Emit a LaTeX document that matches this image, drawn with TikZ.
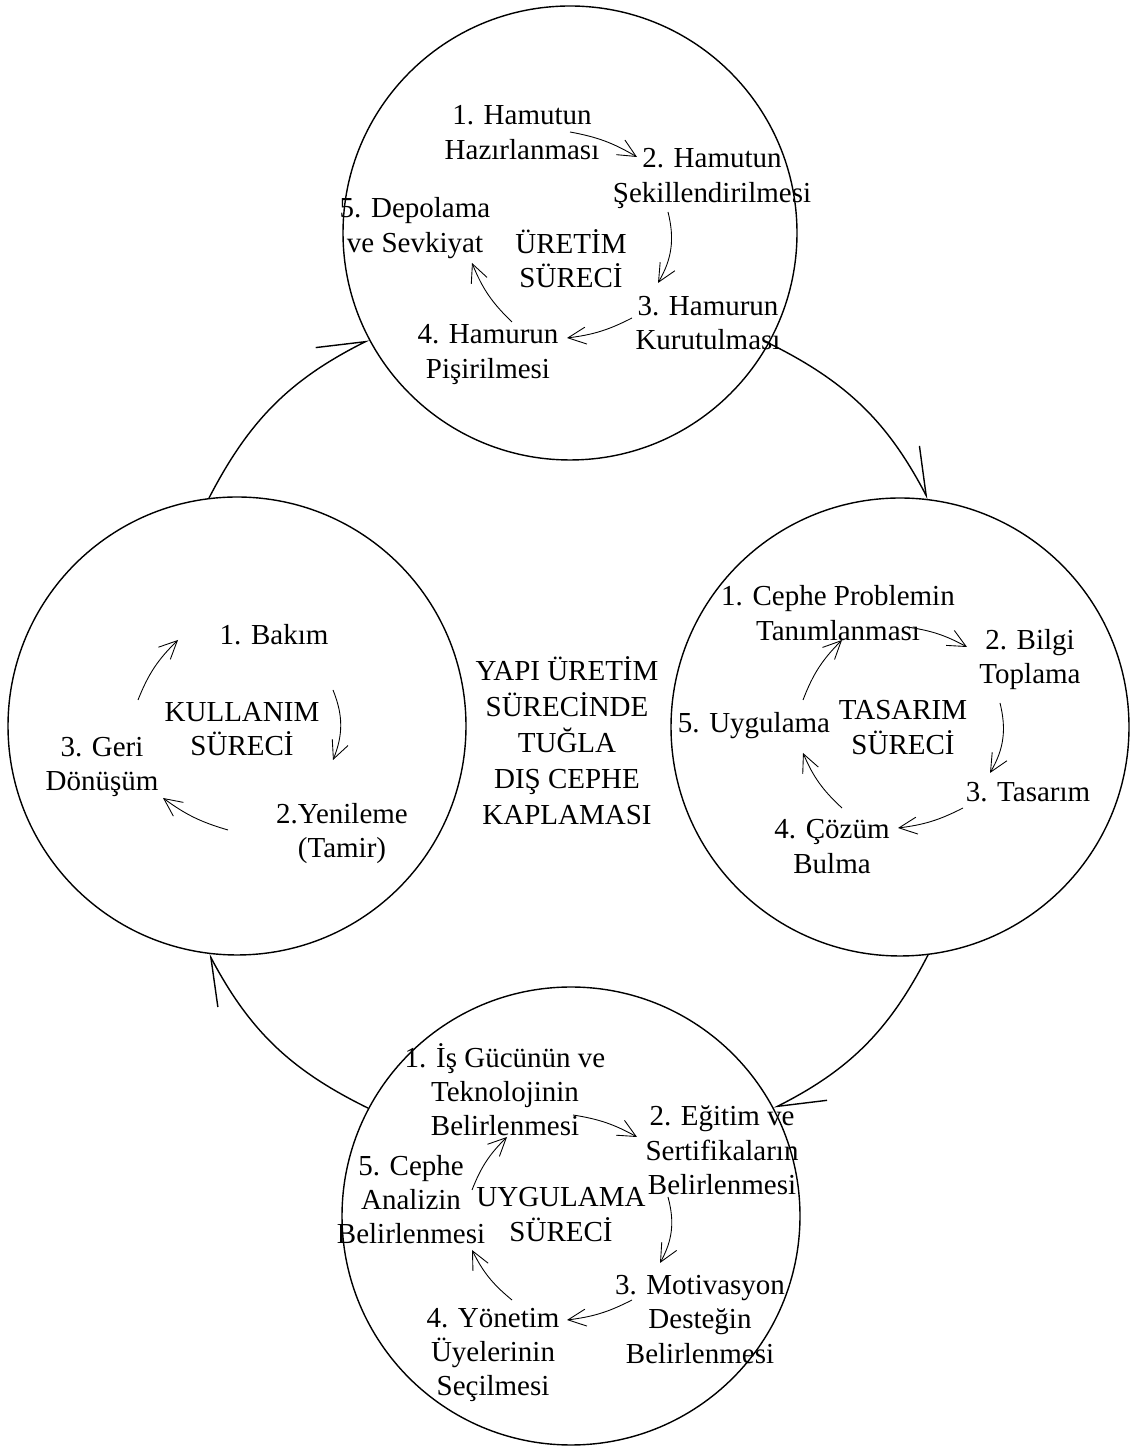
\documentclass[tikz,border=0pt]{standalone}
\usepackage{fontspec}
\setmainfont{Liberation Serif}
\usetikzlibrary{arrows.meta}

\begin{document}
\begin{tikzpicture}[
    surec/.style={circle, draw, line width=0.8pt, minimum size=#1, inner sep=0pt},
    adim/.style={align=center, inner sep=0pt, font=\fontsize{16.5}{19.5}\selectfont},
    okic/.style={line width=0.5pt, -{Straight Barb[length=0.36cm, width=0.34cm]}},
    okdis/.style={line width=0.8pt, -{Straight Barb[harpoon, length=0.94cm, width=0.68cm]}}]
  \useasboundingbox (0,0) rectangle (22.62,28.98);

  % the four processes
  \node[surec=9.08cm] (uretim) at (11.40,24.32) {};
  \node[surec=9.16cm] (tasarim) at (18.00,14.44) {};
  \node[surec=9.16cm] (uygulama) at (11.42,4.66) {};
  \node[surec=9.16cm] (kullanim) at (4.74,14.46) {};

  % cycle between them
  \draw[okdis] (kullanim.97) to[bend left=18] (uretim.208);
  \draw[okdis] (uretim.331) to[bend left=18] (tasarim.83);
  \draw[okdis] (tasarim.277) to[bend left=18] (uygulama.28);
  \draw[okdis] (uygulama.152) to[bend left=18] (kullanim.263);

  \node[adim, font=\fontsize{16.5}{20.5}\selectfont] (baslik) at (11.34,14.16)
    {YAPI ÜRETİM\\SÜRECİNDE\\TUĞLA\\DIŞ CEPHE\\KAPLAMASI};

  % uretim sureci
  \node[adim] (uretimlbl) at (11.42,23.80) {ÜRETİM\\SÜRECİ};
  \node[adim] (h1) at (10.44,26.33) {1. Hamutun\\Hazırlanması};
  \node[adim] (h2) at (14.24,25.41) {2. Hamutun\\Şekillendirilmesi};
  \node[adim] (h3) at (14.16,22.52) {3. Hamurun\\Kurutulması};
  \node[adim] (h4) at (9.76,21.89) {4. Hamurun\\Pişirilmesi};
  \node[adim] (h5) at (8.30,24.42) {5. Depolama\\ve Sevkiyat};
  \draw[okic] ([shift={(0.96,0.01)}]h1.center) to[bend left=10] ([shift={(-1.50,0.43)}]h2.center);
  \draw[okic] ([shift={(-0.88,-0.67)}]h2.center) to[bend left=22] ([shift={(-1.00,0.80)}]h3.center);
  \draw[okic] ([shift={(-1.52,0.10)}]h3.center) to[bend left=10] ([shift={(1.58,0.33)}]h4.center);
  \draw[okic] ([shift={(0.48,0.65)}]h4.center) to[bend left=12] ([shift={(1.14,-0.70)}]h5.center);

  % tasarim sureci
  \node[adim] (tasarimlbl) at (18.06,14.43) {TASARIM\\SÜRECİ};
  \node[adim] (t1) at (16.76,16.72) {1. Cephe Problemin\\Tanımlanması};
  \node[adim] (t2) at (20.60,15.79) {2. Bilgi\\Toplama};
  \node[adim, anchor=base] (t3) at (20.56,12.94) {3. Tasarım};
  \node[adim] (t4) at (16.64,12.05) {4. Çözüm\\Bulma};
  \node[adim, anchor=base] (t5) at (15.08,14.32) {5. Uygulama};
  \draw[okic] ([shift={(1.38,-0.28)}]t1.center) to[bend left=10] ([shift={(-1.26,0.25)}]t2.center);
  \draw[okic] ([shift={(-0.60,-0.87)}]t2.center) to[bend left=22] ([shift={(-0.76,0.58)}]t3.base);
  \draw[okic] ([shift={(-1.30,-0.12)}]t3.base) to[bend left=10] ([shift={(1.32,0.37)}]t4.center);
  \draw[okic] ([shift={(0.20,0.77)}]t4.center) to[bend left=12] ([shift={(0.98,-0.40)}]t5.base);
  \draw[okic] ([shift={(0.98,0.66)}]t5.base) to[bend left=12] ([shift={(0.08,-0.54)}]t1.center);

  % uygulama sureci
  \node[adim] (uygulamalbl) at (11.22,4.69) {UYGULAMA\\SÜRECİ};
  \node[adim] (u1) at (10.10,7.19) {1. İş Gücünün ve\\Teknolojinin\\Belirlenmesi};
  \node[adim] (u2) at (14.44,5.97) {2. Eğitim ve\\Sertifikaların\\Belirlenmesi};
  \node[adim] (u3) at (14.00,2.59) {3. Motivasyon\\Desteğin\\Belirlenmesi};
  \node[adim] (u4) at (9.86,1.88) {4. Yönetim\\Üyelerinin\\Seçilmesi};
  \node[adim] (u5) at (8.22,4.99) {5. Cephe\\Analizin\\Belirlenmesi};
  \draw[okic] ([shift={(1.36,-0.51)}]u1.center) to[bend left=10] ([shift={(-1.70,0.27)}]u2.center);
  \draw[okic] ([shift={(-1.08,-0.93)}]u2.center) to[bend left=22] ([shift={(-0.80,1.13)}]u3.center);
  \draw[okic] ([shift={(-1.36,0.39)}]u3.center) to[bend left=10] ([shift={(1.48,0.70)}]u4.center);
  \draw[okic] ([shift={(0.38,1.10)}]u4.center) to[bend left=12] ([shift={(1.22,-1.01)}]u5.center);
  \draw[okic] ([shift={(1.22,0.19)}]u5.center) to[bend left=12] ([shift={(0.04,-0.95)}]u1.center);

  % kullanim sureci
  \node[adim] (kullanimlbl) at (4.84,14.40) {KULLANIM\\SÜRECİ};
  \node[adim, anchor=base] (k1) at (5.48,16.08) {1. Bakım};
  \node[adim] (k2) at (6.84,12.31) {2.Yenileme\\(Tamir)};
  \node[adim] (k3) at (2.04,13.64) {3. Geri\\Dönüşüm};
  \draw[okic] ([shift={(1.18,-0.90)}]k1.base) to[bend left=22] ([shift={(-0.18,1.47)}]k2.center);
  \draw[okic] ([shift={(-2.28,0.07)}]k2.center) to[bend left=10] ([shift={(1.22,-0.62)}]k3.center);
  \draw[okic] ([shift={(0.72,1.34)}]k3.center) to[bend left=12] ([shift={(-1.92,0.10)}]k1.base);
\end{tikzpicture}
\end{document}
